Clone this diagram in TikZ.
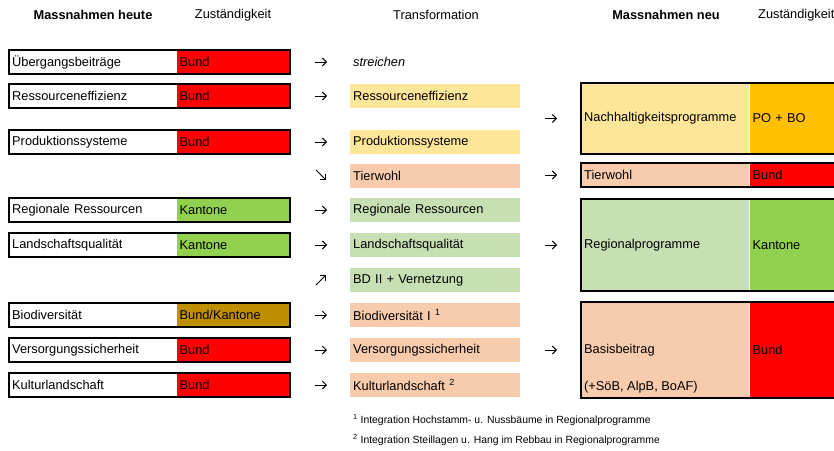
\documentclass[tikz,border=0pt]{standalone}
\usepackage{fontspec}
\setmainfont{Liberation Sans}
\usepackage{tikz}
\usetikzlibrary{arrows.meta}
\definecolor{bundred}{HTML}{FF0000}
\definecolor{kantgreen}{HTML}{92D050}
\definecolor{mixbrown}{HTML}{BF8F00}
\definecolor{poorange}{HTML}{FFC000}
\definecolor{paleyellow}{HTML}{FFE699}
\definecolor{palepeach}{HTML}{F8CBAD}
\definecolor{palegreen}{HTML}{C6E0B4}
\begin{document}
\begin{tikzpicture}[x=1pt,y=-1pt]
\tikzstyle{every node}+=[inner sep=3pt, font=\fontsize{12.8}{15}\selectfont]
\tikzstyle{massbox}=[anchor=west, minimum height=24pt, text width=161pt, align=left, fill=white]
\tikzstyle{zustbox}=[anchor=west, minimum height=24pt, text width=107pt, align=left]
\tikzstyle{transbox}=[anchor=west, minimum height=24pt, text width=164pt, align=left]
\tikzstyle{neubox}=[anchor=west, text width=162pt, align=left]
\tikzstyle{frame}=[black, line width=1.8pt]
\tikzstyle{pfeil}=[-{Straight Barb[length=4pt,width=8pt]}, line width=0.9pt]
\tikzstyle{fussnote}=[anchor=west, font=\fontsize{10.4}{12}\selectfont]
\clip (0,0) rectangle (834,450);
% headings
\node[font=\fontsize{12.8}{15}\selectfont\bfseries] (h1) at (93,15) {Massnahmen heute};
\node (h2) at (233,15) {Zuständigkeit};
\node (h3) at (436,15) {Transformation};
\node[font=\fontsize{12.8}{15}\selectfont\bfseries] (h4) at (666,15) {Massnahmen neu};
\node[anchor=west] (h5) at (755,15) {Zuständigkeit};
% measures today
\node[massbox] (a1) at (9,62) {Übergangsbeiträge};
\node[zustbox, fill=bundred] (r1) at (a1.east) {Bund};
\node[massbox] (a2) at (9,96) {Ressourceneffizienz};
\node[zustbox, fill=bundred] (r2) at (a2.east) {Bund};
\node[massbox] (a3) at (9,142) {Produktionssysteme};
\node[zustbox, fill=bundred] (r3) at (a3.east) {Bund};
\node[massbox] (a4) at (9,210) {Regionale Ressourcen};
\node[zustbox, fill=kantgreen] (r4) at (a4.east) {Kantone};
\node[massbox] (a5) at (9,245) {Landschaftsqualität};
\node[zustbox, fill=kantgreen] (r5) at (a5.east) {Kantone};
\node[massbox] (a6) at (9,315) {Biodiversität};
\node[zustbox, fill=mixbrown] (r6) at (a6.east) {Bund/Kantone};
\node[massbox] (a7) at (9,350) {Versorgungssicherheit};
\node[zustbox, fill=bundred] (r7) at (a7.east) {Bund};
\node[massbox] (a8) at (9,385) {Kulturlandschaft};
\node[zustbox, fill=bundred] (r8) at (a8.east) {Bund};
\draw[frame] (a1.north west) rectangle (r1.south east);
\draw[frame] (a2.north west) rectangle (r2.south east);
\draw[frame] (a3.north west) rectangle (r3.south east);
\draw[frame] (a4.north west) rectangle (r4.south east);
\draw[frame] (a5.north west) rectangle (r5.south east);
\draw[frame] (a6.north west) rectangle (r6.south east);
\draw[frame] (a7.north west) rectangle (r7.south east);
\draw[frame] (a8.north west) rectangle (r8.south east);
% transformation
\node[anchor=west, font=\fontsize{12.8}{15}\selectfont\itshape] (t1) at (350,62) {streichen};
\node[transbox, fill=paleyellow] (t2) at (350,96) {Ressourceneffizienz};
\node[transbox, fill=paleyellow] (t3) at (350,142) {Produktionssysteme};
\node[transbox, fill=palepeach] (t4) at (350,176) {Tierwohl};
\node[transbox, fill=palegreen] (t5) at (350,210) {Regionale Ressourcen};
\node[transbox, fill=palegreen] (t6) at (350,245) {Landschaftsqualität};
\node[transbox, fill=palegreen] (t7) at (350,280) {BD II + Vernetzung};
\node[transbox, fill=palepeach] (t8) at (350,315) {Biodiversität I \textsuperscript{1}};
\node[transbox, fill=palepeach] (t9) at (350,350) {Versorgungssicherheit};
\node[transbox, fill=palepeach] (t10) at (350,385) {Kulturlandschaft \textsuperscript{2}};
\draw[pfeil] ([xshift=-35pt]t1.west) -- ([xshift=-23pt]t1.west);
\draw[pfeil] ([xshift=-35pt]t2.west) -- ([xshift=-23pt]t2.west);
\draw[pfeil] ([xshift=-35pt]t3.west) -- ([xshift=-23pt]t3.west);
\draw[pfeil] ([shift={(-34,-6)}]t4.west) -- ([shift={(-24,4)}]t4.west);
\draw[pfeil] ([xshift=-35pt]t5.west) -- ([xshift=-23pt]t5.west);
\draw[pfeil] ([xshift=-35pt]t6.west) -- ([xshift=-23pt]t6.west);
\draw[pfeil] ([shift={(-34,5)}]t7.west) -- ([shift={(-24,-5)}]t7.west);
\draw[pfeil] ([xshift=-35pt]t8.west) -- ([xshift=-23pt]t8.west);
\draw[pfeil] ([xshift=-35pt]t9.west) -- ([xshift=-23pt]t9.west);
\draw[pfeil] ([xshift=-35pt]t10.west) -- ([xshift=-23pt]t10.west);
% measures new
\node[neubox, fill=paleyellow, minimum height=71pt] (n1) at (581,118.5) {Nachhaltigkeitsprogramme};
\node[zustbox, fill=poorange, minimum height=71pt, text width=154pt] (z1) at (n1.east) {PO + BO};
\node[neubox, fill=palepeach, minimum height=24pt] (n2) at (581,175) {Tierwohl};
\node[zustbox, fill=bundred, text width=154pt] (z2) at (n2.east) {Bund};
\node[neubox, fill=palegreen, minimum height=92pt] (n3) at (581,245) {Regionalprogramme};
\node[zustbox, fill=kantgreen, minimum height=92pt, text width=154pt] (z3) at (n3.east) {Kantone};
\node[neubox, fill=palepeach, minimum height=96pt] (n4) at (581,350) {Basisbeitrag};
\node[zustbox, fill=bundred, minimum height=96pt, text width=154pt] (z4) at (n4.east) {Bund};
\node[anchor=south west] (n4x) at ([yshift=2pt]n4.south west) {(+SöB, AlpB, BoAF)};
\draw[frame] (n1.north west) rectangle (z1.south east);
\draw[frame] (n2.north west) rectangle (z2.south east);
\draw[frame] (n3.north west) rectangle (z3.south east);
\draw[frame] (n4.north west) rectangle (z4.south east);
\draw[pfeil] ([xshift=-36pt]n1.west) -- ([xshift=-24pt]n1.west);
\draw[pfeil] ([xshift=-36pt]n2.west) -- ([xshift=-24pt]n2.west);
\draw[pfeil] ([xshift=-36pt]n3.west) -- ([xshift=-24pt]n3.west);
\draw[pfeil] ([xshift=-36pt]n4.west) -- ([xshift=-24pt]n4.west);
% footnotes
\node[fussnote] (f1) at (350,420) {\textsuperscript{1} Integration Hochstamm- u. Nussbäume in Regionalprogramme};
\node[fussnote] (f2) at (350,440) {\textsuperscript{2} Integration Steillagen u. Hang im Rebbau in Regionalprogramme};
\end{tikzpicture}
\end{document}
